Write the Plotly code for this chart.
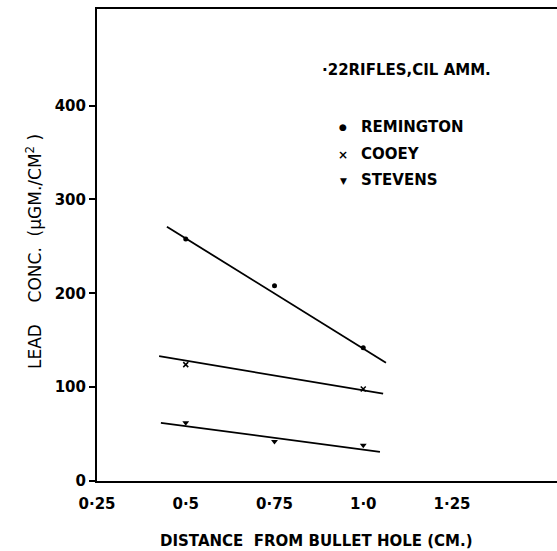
import plotly.graph_objects as go

# data points
x_pts = [0.5, 0.75, 1.0]
remington_y = [258, 208, 142]
cooey_x = [0.5, 1.0]
cooey_y = [124, 98]
stevens_y = [62, 42, 38]

# fitted lines (endpoints)
rem_line_x = [0.447, 1.064]
rem_line_y = [271, 126]
coo_line_x = [0.425, 1.056]
coo_line_y = [133, 93]
ste_line_x = [0.43, 1.047]
ste_line_y = [62, 31]

xtick_vals = [0.25, 0.5, 0.75, 1.0, 1.25]
xtick_text = ["0·25", "0·5", "0·75", "1·0", "1·25"]
ytick_vals = [0, 100, 200, 300, 400]
ytick_text = ["0", "100", "200", "300", "400"]

FONT = "DejaVu Sans"
BFONT = dict(family=FONT, size=15, color="black", weight="bold")
fig = go.Figure()
for lx, ly in [(rem_line_x, rem_line_y), (coo_line_x, coo_line_y), (ste_line_x, ste_line_y)]:
    fig.add_trace(go.Scatter(x=lx, y=ly, mode="lines", line=dict(color="black", width=1.8),
                             showlegend=False, hoverinfo="skip"))
fig.add_trace(go.Scatter(x=x_pts, y=remington_y, mode="markers",
                         marker=dict(symbol="circle", size=5, color="black"), showlegend=False))
fig.add_trace(go.Scatter(x=cooey_x, y=cooey_y, mode="markers",
                         marker=dict(symbol="x-thin", size=5, line=dict(width=1.5, color="black"), color="black"),
                         showlegend=False))
fig.add_trace(go.Scatter(x=x_pts, y=stevens_y, mode="markers",
                         marker=dict(symbol="triangle-down", size=6, color="black"), showlegend=False))

W, H = 557, 551
L, T, B, R = 97, 9, 70, 0
pw, ph = W - L - R, H - T - B
annots = [
    (320, 70, "·22RIFLES,CIL AMM."),
    (359, 127, "REMINGTON"),
    (359, 154, "COOEY"),
    (359, 180, "STEVENS"),
]
for px, py, t in annots:
    fig.add_annotation(x=(px - L) / pw, y=1 - (py - T) / ph, xref="paper", yref="paper",
                       text=t, showarrow=False, xanchor="left", yanchor="middle",
                       font=BFONT)
# legend marker glyphs
sym = [("●", 127, 9), ("×", 155, 12), ("▼", 181, 9)]
for s, py, sz in sym:
    fig.add_annotation(x=(343 - L) / pw, y=1 - (py - T) / ph, xref="paper", yref="paper",
                       text=s, showarrow=False, xanchor="center", yanchor="middle",
                       font=dict(family="DejaVu Sans", size=sz, color="black", weight="bold"))

NB = "\u00a0"
# x-axis title
fig.add_annotation(x=(316 - L) / pw, y=1 - (541 - T) / ph, xref="paper", yref="paper",
                   text="DISTANCE" + NB * 2 + "FROM BULLET HOLE (CM.)", showarrow=False,
                   xanchor="center", yanchor="middle", font=BFONT)
# y-axis title
fig.add_annotation(x=(34 - L) / pw, y=1 - (252 - T) / ph, xref="paper", yref="paper",
                   text="LEAD" + NB * 4 + "CONC." + NB * 2 + "(µGM./CM<sup>2</sup>" + NB + ")",
                   showarrow=False, textangle=-90, xanchor="center", yanchor="middle",
                   font=dict(family=FONT, size=17, color="black"))

fig.update_layout(
    width=W, height=H, margin=dict(l=L, r=R, t=T, b=B),
    plot_bgcolor="white", paper_bgcolor="white",
    font=dict(family=FONT, size=15, color="black"),
    xaxis=dict(range=[0.25, 0.25 + pw / 355], tickvals=xtick_vals, ticktext=xtick_text,
               showline=True, linecolor="black", linewidth=2, mirror=True, showgrid=False,
               zeroline=False, ticks="", ticklen=0, ticklabelstandoff=8,
               tickfont=BFONT),
    yaxis=dict(range=[0, 503], tickvals=ytick_vals, ticktext=ytick_text,
               showline=True, linecolor="black", linewidth=2, showgrid=False, zeroline=False,
               ticks="outside", ticklen=6, tickwidth=1.5, tickcolor="black",
               tickfont=BFONT),
)
fig.write_html("out.html")
